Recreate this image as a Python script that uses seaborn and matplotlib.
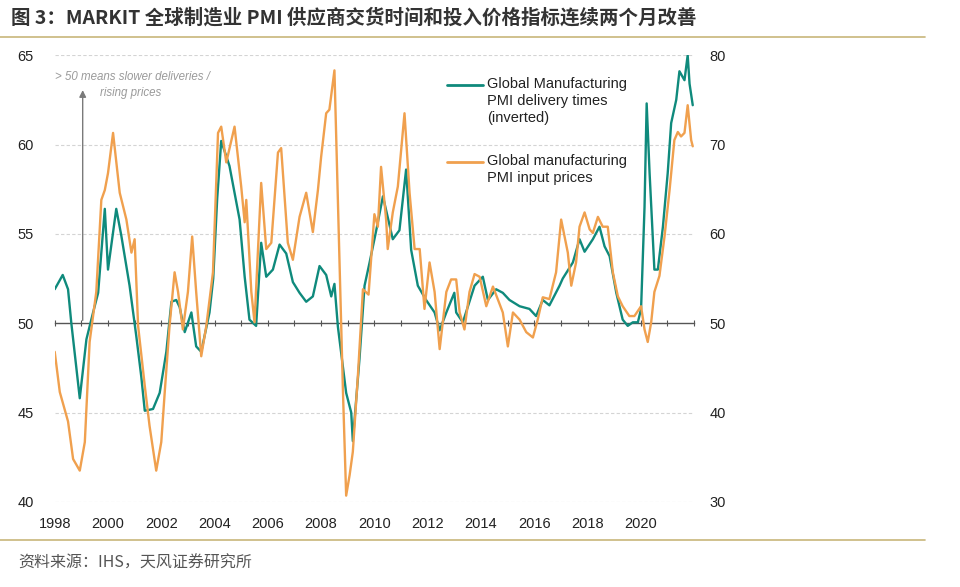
import pandas as pd
import seaborn as sns
import matplotlib.pyplot as plt
from matplotlib.lines import Line2D

# Global Manufacturing PMI delivery times (inverted), left axis
delivery_years = [1998.0, 1998.3, 1998.5, 1998.62, 1998.94, 1999.19, 1999.44, 1999.63, 1999.88, 2000.0,
                  2000.31, 2000.5, 2000.81, 2001.06, 2001.25, 2001.38, 2001.69, 2001.94, 2002.19, 2002.38,
                  2002.56, 2002.69, 2002.88, 2003.13, 2003.31, 2003.5, 2003.81, 2003.95, 2004.1, 2004.25,
                  2004.56, 2004.94, 2005.13, 2005.31, 2005.56, 2005.75, 2005.94, 2006.19, 2006.44, 2006.69,
                  2006.94, 2007.19, 2007.44, 2007.69, 2007.94, 2008.19, 2008.38, 2008.5, 2008.63, 2008.94,
                  2009.13, 2009.19, 2009.44, 2009.63, 2009.82, 2010.07, 2010.32, 2010.69, 2010.94, 2011.19,
                  2011.38, 2011.63, 2011.94, 2012.26, 2012.45, 2012.7, 2013.0, 2013.07, 2013.32, 2013.76,
                  2014.07, 2014.26, 2014.57, 2014.82, 2015.07, 2015.45, 2015.82, 2016.07, 2016.32, 2016.57,
                  2016.95, 2017.07, 2017.45, 2017.7, 2017.89, 2018.2, 2018.45, 2018.64, 2018.83, 2019.08,
                  2019.32, 2019.51, 2019.7, 2019.89, 2020.01, 2020.14, 2020.22, 2020.33, 2020.51, 2020.64,
                  2020.83, 2021.01, 2021.14, 2021.33, 2021.45, 2021.64, 2021.76, 2021.83, 2021.95]
delivery_index = [51.9, 52.7, 51.9, 50.05, 45.8, 49.1, 50.6, 51.7, 56.4, 53.0,
                  56.4, 54.9, 52.1, 49.3, 47.0, 45.1, 45.2, 46.1, 48.4, 51.2,
                  51.3, 50.9, 49.5, 50.6, 48.7, 48.4, 50.6, 52.5, 57.0, 60.2,
                  58.8, 55.8, 52.6, 50.2, 49.85, 54.5, 52.6, 53.0, 54.4, 53.9,
                  52.3, 51.7, 51.2, 51.5, 53.2, 52.7, 51.5, 52.2, 49.8, 46.1,
                  45.0, 43.4, 48.0, 52.1, 53.4, 55.2, 57.1, 54.7, 55.2, 58.6,
                  54.1, 52.1, 51.3, 50.6, 49.6, 50.6, 51.7, 50.6, 50.05, 52.1,
                  52.6, 51.3, 51.9, 51.7, 51.3, 50.95, 50.8, 50.4, 51.3, 51.0,
                  52.1, 52.5, 53.4, 54.7, 54.0, 54.7, 55.4, 54.3, 53.75, 51.7,
                  50.2, 49.85, 50.05, 50.05, 50.8, 56.5, 62.3, 58.4, 53.0, 53.0,
                  55.4, 58.4, 61.2, 62.5, 64.1, 63.6, 65.0, 63.4, 62.2]

# Global manufacturing PMI input prices, right axis
price_years = [1998.0, 1998.19, 1998.5, 1998.69, 1998.94, 1999.13, 1999.31, 1999.56, 1999.75, 1999.88,
               2000.0, 2000.19, 2000.44, 2000.69, 2000.88, 2001.0, 2001.13, 2001.38, 2001.56, 2001.81,
               2002.0, 2002.13, 2002.31, 2002.5, 2002.63, 2002.81, 2003.0, 2003.16, 2003.31, 2003.5,
               2003.69, 2003.94, 2004.13, 2004.25, 2004.44, 2004.75, 2005.0, 2005.13, 2005.19, 2005.38,
               2005.5, 2005.75, 2005.94, 2006.13, 2006.38, 2006.5, 2006.75, 2006.94, 2007.19, 2007.44,
               2007.69, 2007.88, 2008.0, 2008.19, 2008.31, 2008.5, 2008.69, 2008.82, 2008.94, 2009.07,
               2009.19, 2009.38, 2009.57, 2009.78, 2010.0, 2010.13, 2010.25, 2010.44, 2010.5, 2010.69,
               2010.88, 2011.13, 2011.32, 2011.51, 2011.7, 2011.88, 2012.07, 2012.26, 2012.45, 2012.7,
               2012.88, 2013.07, 2013.2, 2013.38, 2013.57, 2013.76, 2013.95, 2014.2, 2014.45, 2014.63,
               2014.82, 2015.01, 2015.2, 2015.45, 2015.7, 2015.95, 2016.13, 2016.32, 2016.57, 2016.82,
               2017.01, 2017.14, 2017.26, 2017.39, 2017.57, 2017.7, 2017.89, 2018.08, 2018.2, 2018.39,
               2018.57, 2018.76, 2018.95, 2019.14, 2019.32, 2019.57, 2019.76, 2020.01, 2020.14, 2020.26,
               2020.39, 2020.51, 2020.7, 2020.89, 2021.08, 2021.26, 2021.39, 2021.51, 2021.64, 2021.76,
               2021.89, 2021.95]
price_index = [46.8, 42.3, 39.0, 34.8, 33.5, 36.7, 47.9, 53.5, 63.8, 64.9,
               66.8, 71.3, 64.6, 61.6, 57.9, 59.4, 49.7, 43.0, 38.5, 33.5,
               36.7, 42.3, 49.7, 55.7, 53.5, 49.3, 53.5, 59.7, 53.5, 46.3,
               49.7, 55.7, 71.3, 72.0, 68.0, 72.0, 65.3, 61.3, 63.8, 53.5,
               50.1, 65.7, 58.3, 59.0, 69.1, 69.6, 59.0, 57.1, 61.9, 64.6,
               60.2, 64.9, 68.6, 73.5, 73.9, 78.3, 57.1, 42.3, 30.7, 33.0,
               35.6, 44.1, 53.8, 53.2, 62.2, 60.8, 67.5, 61.6, 58.3, 62.4,
               65.3, 73.5, 64.6, 58.3, 58.3, 51.6, 56.8, 53.5, 47.1, 53.5,
               54.9, 54.9, 51.2, 49.3, 53.5, 55.5, 55.2, 51.9, 54.1, 52.7,
               51.2, 47.4, 51.2, 50.4, 49.0, 48.4, 50.4, 52.9, 52.7, 55.7,
               61.6, 59.7, 57.9, 54.2, 56.8, 60.8, 62.4, 60.5, 60.1, 61.9,
               60.8, 60.8, 55.7, 53.0, 51.9, 50.8, 50.8, 51.9, 49.3, 47.9,
               50.1, 53.5, 55.3, 59.7, 64.9, 70.5, 71.4, 70.9, 71.3, 74.4,
               70.5, 69.8]

left_ticks = [40, 45, 50, 55, 60, 65]
right_ticks = [30, 40, 50, 60, 70, 80]
year_labels = list(range(1998, 2021, 2))
minor_years = list(range(1998, 2023))

title = "图 3：MARKIT 全球制造业 PMI 供应商交货时间和投入价格指标连续两个月改善"
source = "资料来源：IHS，天风证券研究所"

GREEN = "#0f8a7c"
ORANGE = "#f0a04e"
CJK = ["Noto Sans CJK SC", "DejaVu Sans"]

sns.set_theme(style="white")
plt.rcParams['font.family'] = ['Liberation Sans', 'Noto Sans CJK SC', 'DejaVu Sans']

delivery = pd.DataFrame({'year': delivery_years, 'value': delivery_index})
prices = pd.DataFrame({'year': price_years, 'value': price_index})

fig = plt.figure(figsize=(9.6, 5.87), dpi=100)
ax = fig.add_axes([0.057, 0.145, 0.666, 0.761])
ax2 = ax.twinx()

# dotted gridlines, 50 is drawn as an axis
for v in [40, 45, 55, 60, 65]:
    ax.axhline(v, color="#d4d4d4", lw=0.8, ls=(0, (3, 2)), zorder=0)

sns.lineplot(data=delivery, x='year', y='value', ax=ax, color=GREEN, lw=1.7)
sns.lineplot(data=prices, x='year', y='value', ax=ax2, color=ORANGE, lw=1.7)

ax.set_xlim(1998, 2022)
ax.set_ylim(40, 65)
ax2.set_ylim(30, 80)

ax.set_xticks(year_labels)
ax.set_xticklabels([str(y) for y in year_labels])
ax.set_yticks(left_ticks)
ax2.set_yticks(right_ticks)
ax.tick_params(axis='x', length=0, pad=11, labelsize=10.5, colors="#222222")
ax.tick_params(axis='y', length=0, pad=15, labelsize=10.5, colors="#222222")
ax2.tick_params(axis='y', length=0, pad=11, labelsize=10.5, colors="#222222")
ax.set_xlabel("")
ax.set_ylabel("")
ax2.set_ylabel("")
for a in (ax, ax2):
    for s in a.spines.values():
        s.set_visible(False)

# the 50 line with yearly ticks
mid = ax.secondary_xaxis(0.4)
mid.set_xticks(minor_years)
mid.set_xticklabels([])
mid.tick_params(direction='inout', length=5, width=0.8, color="#555555")
mid.spines['bottom'].set_color("#555555")
mid.spines['bottom'].set_linewidth(1.0)

# annotation arrow
ax.annotate('', xy=(1999.05, 63.2), xytext=(1999.05, 50),
            arrowprops=dict(arrowstyle='-|>', color="#7a7a7a", lw=1.0, mutation_scale=10))
fig.text(0.057, 0.869, "> 50 means slower deliveries /", fontsize=8.3, style='italic',
         color="#9a9a9a", va='center')
fig.text(0.104, 0.842, "rising prices", fontsize=8.3, style='italic', color="#9a9a9a", va='center')

# legend
fig.add_artist(Line2D([0.466, 0.503], [0.855, 0.855], color=GREEN, lw=2))
fig.text(0.507, 0.869, "Global Manufacturing\nPMI delivery times\n(inverted)", fontsize=10.5,
         color="#222222", va='top', linespacing=1.3)
fig.add_artist(Line2D([0.466, 0.503], [0.724, 0.724], color=ORANGE, lw=2))
fig.text(0.507, 0.738, "Global manufacturing\nPMI input prices", fontsize=10.5,
         color="#222222", va='top', linespacing=1.3)

# header and footer
fig.text(0.011, 0.969, title, fontsize=14, weight='bold', color="#333333", va='center', family=CJK)
fig.add_artist(Line2D([0, 0.964], [0.937, 0.937], color="#c8b67a", lw=1.2))
fig.add_artist(Line2D([0, 0.964], [0.080, 0.080], color="#c8b67a", lw=1.2))
fig.text(0.019, 0.041, source, fontsize=11.5, color="#555555", va='center', family=CJK)

fig.savefig("out.png", dpi=100, facecolor="white")
